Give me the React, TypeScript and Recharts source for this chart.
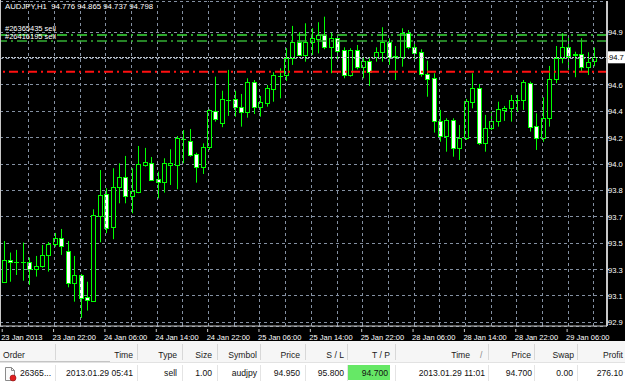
import React from 'react';
import { ComposedChart, Bar, XAxis, YAxis, CartesianGrid, ReferenceLine } from 'recharts';

// AUDJPY H1 candles, 23 Jan 14:00 .. 29 Jan 10:00
const opens = [
  93.265, 93.416, 93.4, 93.4, 93.4, 93.352, 93.377, 93.448, 93.523, 93.566,
  93.475, 93.257, 93.311, 93.16, 93.138, 93.718, 93.864, 93.643, 93.911, 93.98,
  93.854, 93.881, 94.064, 94.079, 93.966, 93.946, 94.066, 94.064, 94.239, 94.227,
  94.137, 94.048, 94.184, 94.434, 94.352, 94.507, 94.512, 94.457, 94.425, 94.632,
  94.461, 94.489, 94.584, 94.671, 94.675, 94.791, 94.9, 94.814, 94.9, 94.925,
  94.95, 94.87, 94.928, 94.848, 94.677, 94.848, 94.73, 94.775, 94.798, 94.832,
  94.905, 94.802, 94.802, 94.966, 94.866, 94.832, 94.684, 94.655, 94.364, 94.261,
  94.371, 94.182, 94.246, 94.495, 94.587, 94.212, 94.314, 94.364, 94.439, 94.45,
  94.507, 94.507, 94.621, 94.33, 94.246, 94.382, 94.648, 94.791, 94.87, 94.819,
  94.819, 94.734, 94.776,
];
const highs = [
  93.545, 93.466, 93.484, 93.534, 93.432, 93.443, 93.518, 93.538, 93.6, 93.627,
  93.545, 93.443, 93.32, 93.267, 93.761, 94.029, 93.905, 94.041, 94.075, 94.125,
  94.041, 94.193, 94.18, 94.118, 94.018, 94.109, 94.171, 94.261, 94.302, 94.309,
  94.147, 94.211, 94.443, 94.666, 94.57, 94.712, 94.57, 94.548, 94.655, 94.643,
  94.534, 94.609, 94.696, 94.723, 94.86, 95.012, 94.969, 95.03, 94.996, 95.037,
  95.075, 94.966, 94.943, 94.866, 94.86, 94.882, 94.802, 94.791, 94.866, 95.003,
  94.928, 94.875, 94.996, 94.984, 94.894, 94.853, 94.775, 94.689, 94.439, 94.382,
  94.382, 94.336, 94.514, 94.689, 94.616, 94.405, 94.427, 94.495, 94.466, 94.541,
  94.541, 94.643, 94.632, 94.416, 94.525, 94.739, 94.875, 94.962, 94.95, 94.836,
  94.928, 94.832, 94.865,
];
const lows = [
  93.259, 93.267, 93.313, 93.274, 93.245, 93.302, 93.363, 93.336, 93.506, 93.45,
  93.229, 93.131, 93.02, 93.07, 93.131, 93.536, 93.598, 93.557, 93.802, 93.802,
  93.734, 93.871, 94.052, 93.958, 93.836, 93.875, 93.927, 93.898, 94.075, 94.12,
  93.943, 94.002, 94.166, 94.359, 94.321, 94.398, 94.393, 94.325, 94.386, 94.411,
  94.393, 94.461, 94.495, 94.518, 94.637, 94.746, 94.807, 94.768, 94.814, 94.825,
  94.853, 94.689, 94.768, 94.655, 94.666, 94.716, 94.655, 94.602, 94.768, 94.768,
  94.746, 94.643, 94.734, 94.853, 94.785, 94.666, 94.529, 94.284, 94.222, 94.154,
  94.12, 94.098, 94.234, 94.45, 94.2, 94.154, 94.302, 94.325, 94.364, 94.359,
  94.427, 94.439, 94.291, 94.166, 94.222, 94.325, 94.621, 94.757, 94.712, 94.662,
  94.7, 94.677, 94.737,
];
const closes = [
  93.416, 93.402, 93.403, 93.399, 93.352, 93.377, 93.448, 93.523, 93.566, 93.513,
  93.257, 93.311, 93.157, 93.139, 93.722, 93.859, 93.636, 93.911, 93.98, 93.854,
  93.884, 94.068, 94.082, 93.961, 93.948, 94.079, 94.079, 94.246, 94.241, 94.132,
  94.048, 94.188, 94.439, 94.379, 94.512, 94.505, 94.457, 94.425, 94.63, 94.461,
  94.491, 94.587, 94.675, 94.669, 94.791, 94.905, 94.814, 94.9, 94.932, 94.95,
  94.87, 94.928, 94.843, 94.677, 94.848, 94.73, 94.773, 94.7, 94.832, 94.905,
  94.802, 94.804, 94.966, 94.87, 94.825, 94.684, 94.648, 94.364, 94.261, 94.371,
  94.182, 94.25, 94.498, 94.587, 94.212, 94.314, 94.364, 94.443, 94.452, 94.507,
  94.505, 94.628, 94.325, 94.246, 94.382, 94.648, 94.791, 94.87, 94.809, 94.817,
  94.734, 94.764, 94.798,
];

// one label every 8 bars
const timeLabels = [
  '23 Jan 2013', '23 Jan 22:00', '24 Jan 06:00', '24 Jan 14:00', '24 Jan 22:00', '25 Jan 06:00',
  '25 Jan 14:00', '25 Jan 22:00', '28 Jan 06:00', '28 Jan 14:00', '28 Jan 22:00', '29 Jan 06:00',
];
const priceTicks = [95.15, 94.97, 94.79, 94.61, 94.43, 94.25, 94.07, 93.89, 93.71, 93.53, 93.35, 93.17, 92.99];

const bidPrice = 94.798;
const orderLines = [
  { price: 94.95, label: '#26365435 sell', color: '#3ce03c', lift: 4.5 },
  { price: 94.909, label: '#26416195 sell', color: '#35b035', lift: 2 },
];
const takeProfit = 94.7;

const columnTitles = ['Order', 'Time', 'Type', 'Size', 'Symbol', 'Price', 'S / L', 'T / P', 'Time', 'Price', 'Swap', 'Profit'];
const orderRow = ['26365...', '2013.01.29 05:41', 'sell', '1.00', 'audjpy', '94.950', '95.800', '94.700', '2013.01.29 11:01', '94.700', '0.00', '276.10'];

const data = opens.map((o, i) => ({
  idx: i,
  open: o,
  high: highs[i],
  low: lows[i],
  close: closes[i],
  range: [lows[i], highs[i]],
}));

const LIME = '#00ff00';
const GRID = '#8490a2';
const FONT = '"Liberation Sans", Arial, sans-serif';

const Candle = (props: any) => {
  const { x, y, width, height, payload } = props;
  if (!payload) return null;
  const { open, close, high, low } = payload;
  const top = Math.min(y, y + height);
  const span = Math.abs(height);
  const unit = span / (high - low || 1);
  const cx = Math.round(x + width / 2) + 0.5;
  const bodyTop = Math.round(top + (high - Math.max(open, close)) * unit) + 0.5;
  const bodyBot = Math.round(top + (high - Math.min(open, close)) * unit) + 0.5;
  const bear = close < open;
  return (
    <g>
      <line x1={cx} x2={cx} y1={top} y2={top + span} stroke={LIME} strokeWidth={1} />
      <rect
        x={cx - 2}
        y={bodyTop}
        width={4}
        height={Math.max(bodyBot - bodyTop, 0.01)}
        fill={bear ? '#ffffff' : '#000000'}
        stroke={LIME}
        strokeWidth={1}
      />
    </g>
  );
};

const TimeTick = (props: any) => {
  const { x, y, payload } = props;
  const label = timeLabels[payload.value / 8];
  if (label === undefined) return null;
  return (
    <g>
      <line x1={x - 1} x2={x - 1} y1={y - 5} y2={y - 2} stroke="#c8c8c8" />
      <text x={x - 2} y={y + 5.5} fill="#ffffff" fontSize={7.5} fontFamily={FONT} textAnchor="start">
        {label}
      </text>
    </g>
  );
};

// the screen cuts the price labels after the first decimal
const PriceTick = (props: any) => {
  const { x, y, payload } = props;
  if (payload.value === 94.79) return null;
  return (
    <text x={x - 3} y={y + 3} fill="#ffffff" fontSize={7.6} fontFamily={FONT} textAnchor="start">
      {payload.value.toFixed(3).slice(0, 4)}
    </text>
  );
};

const OrderLabel = (text: string, lift: number) => (props: any) => {
  const { viewBox } = props;
  return (
    <text x={viewBox.x + 5} y={viewBox.y - lift} fill="#ffffff" fontSize={7.5} fontFamily={FONT}>
      {text}
    </text>
  );
};

const BidLabel = (props: any) => {
  const { viewBox } = props;
  const left = viewBox.x + viewBox.width + 1;
  return (
    <g>
      <rect x={left} y={viewBox.y - 6} width={18} height={12} fill="#ffffff" />
      <text x={left + 1} y={viewBox.y + 3} fill="#000000" fontSize={7.6} fontFamily={FONT}>
        {bidPrice.toFixed(3).slice(0, 4)}
      </text>
    </g>
  );
};

const gridBars = data.filter((d) => d.idx > 0 && d.idx % 4 === 0).map((d) => d.idx);

const headerEnds = [0, 133, 177, 212, 257, 300, 344, 390, 470, 531, 574, 623];
const cellEnds = [0, 133, 177, 212, 257, 300, 344, 388, 485, 532, 573, 623];
const separators = [55, 137, 182, 217, 260, 305, 347, 395, 488, 534, 577];

const OrderIcon = () => (
  <svg width={14} height={16} style={{ position: 'absolute', left: 3, top: 3 }}>
    <path d="M2.5 1.5 H8.5 L11.5 4.5 V14.5 H2.5 Z" fill="#fafafa" stroke="#8a8a8a" />
    <path d="M8.5 1.5 V4.5 H11.5" fill="none" stroke="#8a8a8a" />
    <circle cx={10} cy={12} r={3} fill="#e02020" stroke="#901010" strokeWidth={0.6} />
  </svg>
);

const Table = () => {
  const cellStyle = (end: number, i: number): React.CSSProperties =>
    i === 0
      ? { position: 'absolute', left: 0, top: 0 }
      : { position: 'absolute', right: 625 - end, top: 0, whiteSpace: 'nowrap' };
  return (
    <div style={{ position: 'absolute', left: 0, top: 341, width: 625, height: 44, background: '#ffffff', fontFamily: FONT, fontSize: 8.6 }}>
      <div style={{ position: 'absolute', left: 0, top: 0, width: 625, height: 21, background: '#f6f6f6', borderBottom: '1px solid #e2e2e2' }}>
        <div style={{ position: 'absolute', left: 0, top: 20, width: 110, height: 1, background: '#c4c4c4' }} />
        {separators.map((s) => (
          <div key={s} style={{ position: 'absolute', left: s, top: 3, width: 1, height: 16, background: '#d8d8d8' }} />
        ))}
        {columnTitles.map((t, i) => (
          <div key={i} style={{ ...cellStyle(headerEnds[i], i), left: i === 0 ? 3 : undefined, top: 9, lineHeight: '10px', color: '#1a1a1a' }}>
            {t}
          </div>
        ))}
        <div style={{ position: 'absolute', left: 480, top: 9, lineHeight: '10px', color: '#888' }}>/</div>
      </div>
      <div style={{ position: 'absolute', left: 0, top: 22, width: 625, height: 21 }}>
        <div style={{ position: 'absolute', left: 348, top: 2, width: 42, height: 15, background: '#66e866' }} />
        {separators.map((s) => (
          <div key={s} style={{ position: 'absolute', left: s, top: 2, width: 1, height: 16, background: '#e4e4e4' }} />
        ))}
        <OrderIcon />
        {orderRow.map((t, i) => (
          <div key={i} style={{ ...cellStyle(cellEnds[i], i), left: i === 0 ? 20 : undefined, top: 5, lineHeight: '10px', color: '#111' }}>
            {t}
          </div>
        ))}
      </div>
    </div>
  );
};

export default function App() {
  return (
    <div style={{ position: 'absolute', left: 0, top: 0, width: 625, height: 385, background: '#ffffff', overflow: 'hidden' }}>
      <div style={{ position: 'absolute', left: 0, top: 0, width: 625, height: 341, background: '#000000' }}>
        <ComposedChart width={625} height={341} data={data} margin={{ top: 1, right: 0, left: 0, bottom: 0 }}>
          <CartesianGrid vertical={false} stroke={GRID} strokeDasharray="3 3" shapeRendering="crispEdges" />
          {gridBars.map((b) => (
            <ReferenceLine key={b} x={b} stroke={GRID} strokeDasharray="3 3" shapeRendering="crispEdges" />
          ))}
          <XAxis
            dataKey="idx"
            type="category"
            height={15}
            interval={7}
            padding={{ left: 0, right: 10 }}
            axisLine={{ stroke: '#c8c8c8' }}
            tickLine={false}
            tick={<TimeTick />}
          />
          <YAxis
            orientation="right"
            width={18}
            type="number"
            domain={[92.965, 95.182]}
            ticks={priceTicks}
            allowDataOverflow
            axisLine={{ stroke: '#c8c8c8', strokeWidth: 2 }}
            tickLine={{ stroke: '#c8c8c8' }}
            tickSize={2}
            tick={<PriceTick />}
          />
          <ReferenceLine y={bidPrice} stroke="#c0c6ce" strokeDasharray="2 1" shapeRendering="crispEdges" label={<BidLabel />} />
          {orderLines.map((o) => (
            <ReferenceLine
              key={o.label}
              y={o.price}
              stroke={o.color}
              strokeWidth={1.5}
              strokeDasharray="10 4 2 4"
              label={OrderLabel(o.label, o.lift)}
            />
          ))}
          <ReferenceLine y={takeProfit} stroke="#ff1010" strokeWidth={2} strokeDasharray="9 4 2 4" />
          <Bar dataKey="range" barSize={5} shape={<Candle />} isAnimationActive={false} />
        </ComposedChart>
        <div style={{ position: 'absolute', left: 0, top: 0, width: 1, height: 326, background: '#c8c8c8' }} />
        <div style={{ position: 'absolute', left: 5, top: 2, color: '#ffffff', fontFamily: FONT, fontSize: 7.8, lineHeight: '10px', whiteSpace: 'pre' }}>
          AUDJPY,H1  94.776 94.865 94.737 94.798
        </div>
      </div>
      <Table />
    </div>
  );
}
